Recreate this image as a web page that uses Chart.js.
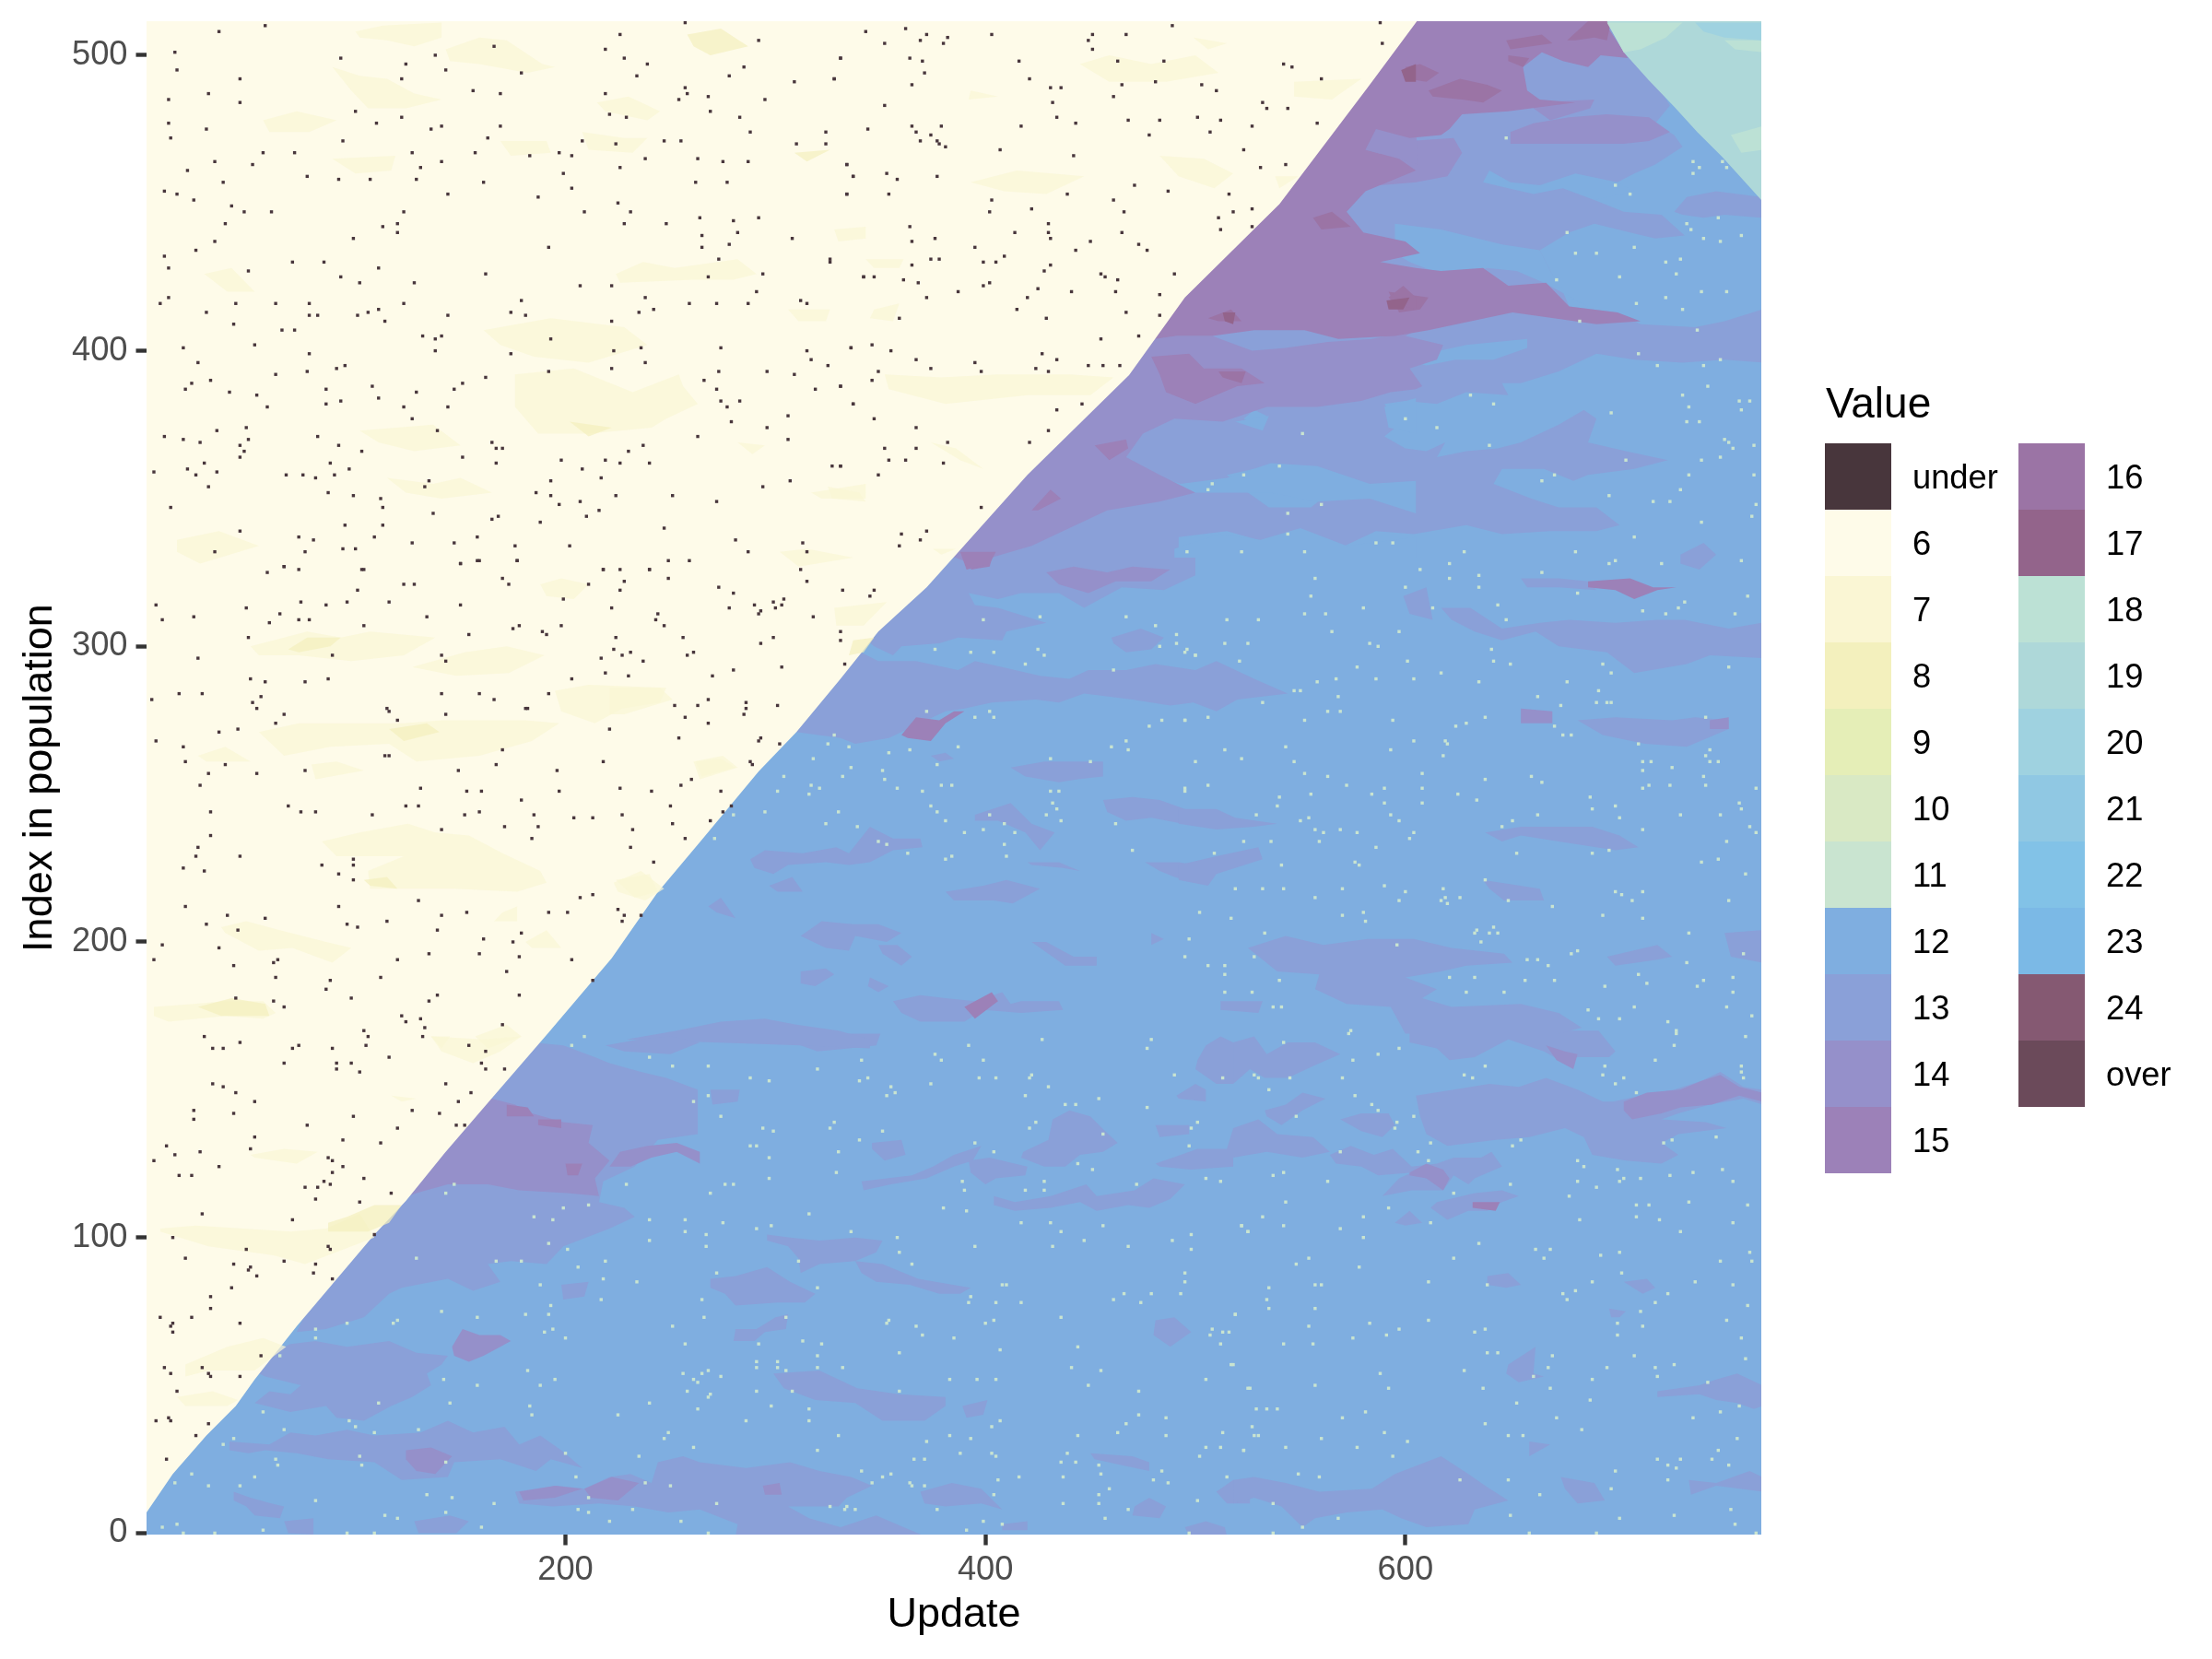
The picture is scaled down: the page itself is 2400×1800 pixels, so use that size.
<!DOCTYPE html>
<html>
<head>
<meta charset="utf-8">
<title>Value by update and index</title>
<script src="https://cdn.jsdelivr.net/npm/chart.js@4/dist/chart.umd.min.js"></script>
<style>
  html, body { margin: 0; padding: 0; background: #fff; }
  canvas { display: block; }
</style>
</head>
<body>
<canvas id="heat" width="2400" height="1800"></canvas>
<script>
const xTicks = [200, 400, 600];
const yTicks = [0, 100, 200, 300, 400, 500];
const xRange = [0.5, 769.5];
const yRange = [-0.5, 511.5];

const legendLabels = ['under', '6', '7', '8', '9', '10', '11', '12', '13', '14', '15',
  '16', '17', '18', '19', '20', '21', '22', '23', '24', 'over'];
const legendColors = ['#48363C', '#FEFBE9', '#FAF6D4', '#F3F0BD', '#E5EEB7', '#D9E9C4', '#C9E4D0', '#7FAEE0', '#8AA0D8', '#9590CA', '#9C81B8',
  '#9B74A5', '#93648B', '#BCE1D5', '#AED8D9', '#9FD2E0', '#90C8E3', '#82C2E7', '#7BB9E6', '#855972', '#6B4A5A'];

// regions, [update, index] outlines
const region12 = [[0.5,-0.5],[769.5,-0.5],[769.5,511.5],[0.5,511.5]];
const region6 = [[0.5,7],[13,20],[29,33],[43,43],[52,52],[72,70],[109,101],[124,112.4],[142.5,128.6],[166,148],[192,169.4],[222,194.5],[243.7,216.6],[265,234.6],[292,257.7],[310,271],[331,289],[349,305],[372,320],[386.6,331.5],[420,358],[468.4,391.8],[495,418],[540,449.6],[582.6,489.6],[605.5,511.5],[0.5,511.5]];
const region19 = [[696,511.5],[704,501],[716,491.5],[728,482.6],[739,474],[751,465.5],[769.5,451],[769.5,511.5]];

const patch18 = [[[696,511],[732,511],[724,506],[712,502],[704,501]],[[752,505],[770,505],[770,501],[757,502]],[[755,473],[770,476],[770,468],[760,467]]];
const patch20 = [[[738,511],[770,511],[770,505],[752,506],[742,508]]];

const patch7 = [
  [[100,508],[113,510],[141,511],[141,506],[128,503],[115,505],[102,506]],
  [[143,502],[159,506],[172,505],[189,497],[195,496],[182,494],[159,497],[145,498]],
  [[89,496],[102,493],[115,492],[128,487],[141,485],[124,482],[106,482],[98,488]],
  [[56,478],[72,481],[91,478],[78,474],[59,474]],
  [[215,484],[230,486],[245,481],[239,478],[219,481]],
  [[169,471],[191,471],[193,467],[174,466]],
  [[208,474],[228,472],[239,472],[232,467],[211,468]],
  [[89,465],[119,466],[117,461],[100,460]],
  [[176,392],[204,394],[232,386],[254,392],[256,388],[263,382],[248,377],[241,374],[211,372],[187,372],[176,381]],
  [[161,407],[193,411],[228,408],[239,402],[211,396],[185,398],[169,402]],
  [[102,373],[137,375],[150,368],[128,366],[111,369]],
  [[115,357],[137,355],[150,357],[165,352],[141,350],[124,352]],
  [[224,426],[237,430],[252,428],[282,431],[291,426],[280,424],[261,424],[226,423]],
  [[15,336],[35,339],[54,334],[26,328],[15,332]],
  [[28,426],[41,428],[52,420],[39,420]],
  [[302,332],[315,333],[337,330],[311,327]],
  [[328,441],[343,442],[343,438],[330,437]],
  [[282,369],[295,368],[289,365]],
  [[317,352],[343,355],[343,350],[322,350]],
  [[306,414],[326,414],[324,410],[311,410]],
  [[50,300],[77,305],[93,303],[107,305],[138,303],[123,297],[98,295],[73,297],[54,297]],
  [[127,293],[152,298],[172,300],[190,297],[173,291],[148,290]],
  [[195,285],[211,287],[248,286],[245,281],[227,279],[214,274],[198,278]],
  [[54,271],[73,274],[95,274],[123,274],[141,275],[181,275],[197,274],[184,268],[159,263],[129,261],[116,267],[88,266],[66,263]],
  [[79,260],[91,261],[104,258],[81,255]],
  [[25,263],[38,266],[50,261],[29,261]],
  [[84,234],[102,237],[125,240],[138,237],[154,236],[170,230],[188,224],[191,220],[177,217],[147,218],[125,218],[107,218],[106,224],[123,229],[91,229]],
  [[36,205],[48,207],[64,204],[86,200],[98,198],[89,193],[70,198],[54,197],[38,203]],
  [[4,178],[23,179],[38,180],[56,180],[62,176],[56,174],[38,175],[11,173],[4,175]],
  [[188,321],[198,323],[211,321],[204,316],[191,317]],
  [[223,220],[236,224],[247,218],[238,214],[225,217]],
  [[261,261],[275,263],[282,259],[264,255]],
  [[181,200],[191,204],[198,198],[184,198]],
  [[136,168],[145,168],[141,164]],
  [[157,168],[172,172],[179,168],[163,164]],
  [[170,210],[177,212],[177,207],[166,207]],
  [[445,497],[459,500],[479,497],[500,500],[511,494],[486,491],[459,491]],
  [[483,466],[504,465],[518,460],[509,455],[492,459]],
  [[393,457],[415,461],[447,459],[429,453],[409,454]],
  [[352,392],[379,391],[406,392],[440,392],[461,391],[450,385],[420,385],[381,382],[354,387]],
  [[343,431],[361,431],[359,428],[347,428]],
  [[499,506],[515,504],[506,502]],
  [[393,488],[406,486],[392,485]],
  [[547,491],[579,492],[565,485],[547,486]],
  [[538,459],[549,459],[540,455]],
  [[374,369],[386,367],[399,360],[388,363]],
  [[347,414],[359,416],[356,410],[345,411]],
  [[325,354],[340,352],[343,349],[327,350]],
  [[375,333],[386,333],[379,331]],
  [[221,286],[245,286],[251,282],[228,277],[221,277]],
  [[262,261],[274,262],[281,259],[265,256]],
  [[328,313],[353,315],[342,307],[329,307]],
  [[224,221],[240,223],[244,217],[233,215]],
  [[7,103],[24,104],[69,102],[86,103],[102,108],[109,100],[76,91],[61,94],[30,97],[7,102]],
  [[50,128],[66,130],[82,129],[72,125],[52,127]],
  [[19,57],[39,63],[56,66],[67,63],[52,55],[30,55],[19,53]],
  [[15,46],[32,48],[44,45],[39,43],[19,43]],
  [[136,168],[161,167],[179,168],[169,163],[156,159],[141,163]],
  [[117,148],[129,147],[122,146]]
];
const patch8 = [
  [[258,507],[274,509],[287,503],[269,500],[261,503]],
  [[309,467],[326,468],[315,464]],
  [[202,376],[222,374],[211,371]],
  [[68,299],[77,303],[93,303],[88,300],[73,298]],
  [[116,272],[134,274],[140,271],[123,268]],
  [[104,221],[115,222],[120,218],[107,219]],
  [[25,178],[41,181],[57,179],[59,175],[36,175]],
  [[337,302],[347,303],[342,298],[335,297]],
  [[87,105],[96,107],[109,111],[122,111],[116,105],[106,102],[87,102]]
];

const patch13 = [
  [[590,512],[700,512],[720,490],[726,483],[719,477],[728,473],[732,469],[719,463],[709,460],[701,457],[690,451],[704,447],[722,446],[733,439],[719,438],[707,440],[690,443],[678,440],[664,434],[669,427],[675,420],[678,415],[701,413],[712,409],[738,408],[752,410],[770,414],[770,396],[752,397],[732,396],[709,397],[691,399],[673,393],[655,389],[646,389],[649,385],[629,386],[615,382],[600,383],[590,382],[597,375],[590,371],[600,367],[610,366],[619,369],[615,364],[629,366],[644,367],[655,369],[673,375],[685,380],[691,377],[687,369],[705,366],[725,363],[709,360],[687,358],[680,356],[666,360],[646,360],[642,355],[660,350],[673,347],[691,347],[702,341],[691,339],[669,339],[646,338],[629,341],[604,338],[586,339],[568,333],[553,338],[535,335],[515,339],[492,337],[492,330],[380,330],[370,340]],
  [[387,332],[500,332],[500,324],[485,319],[465,320],[447,313],[435,318],[417,318],[406,316],[399,317],[392,318],[395,314],[406,313],[429,308],[410,305],[408,302],[387,303],[378,301],[360,300],[356,297],[347,300],[330,310],[370,335]],
  [[300,268],[310,271],[331,269],[338,267],[354,269],[363,272],[381,278],[390,279],[403,281],[424,282],[435,281],[447,284],[470,282],[488,280],[499,281],[510,278],[520,282],[544,284],[528,289],[510,295],[500,292],[481,294],[467,292],[449,292],[440,289],[426,290],[408,293],[395,295],[387,292],[367,295],[349,295],[335,300]],
  [[184,166],[199,165],[214,161],[221,159],[236,156],[248,154],[263,150],[263,135],[244,133],[233,124],[218,119],[216,112],[228,110],[233,107],[221,103],[199,97],[191,91],[174,92],[163,91],[169,85],[156,82],[144,86],[122,83],[116,81],[104,73],[86,69],[72,68],[100,110],[160,170]],
  [[69,64],[81,65],[96,63],[116,65],[129,61],[144,60],[141,57],[134,54],[136,50],[127,46],[117,43],[104,38],[91,39],[86,43],[69,41],[52,44],[59,48],[69,47],[74,50],[57,53],[54,54],[50,58]],
  [[40,31],[59,30],[69,34],[81,33],[96,35],[109,33],[131,34],[144,38],[156,34],[171,36],[178,30],[188,33],[198,28],[208,22],[193,25],[186,21],[169,25],[147,24],[144,19],[122,18],[109,24],[87,25],[72,27],[57,28],[49,27],[40,28]],
  [[176,14],[196,16],[209,15],[221,19],[231,20],[241,17],[244,24],[256,26],[264,24],[286,22],[307,24],[321,21],[336,19],[346,16],[334,12],[330,9],[306,9],[316,5],[331,2],[348,6],[371,-1],[281,-1],[282,3],[264,8],[249,7],[233,9],[216,10],[194,9],[178,10]],
  [[42,14],[50,12],[60,10],[66,9],[64,5],[52,6],[48,9],[42,11]],
  [[66,4],[80,5],[80,-0.5],[68,0]],
  [[128,4],[145,6],[154,4],[148,0],[130,0]],
  [[198,84],[211,85],[209,80],[199,79]],
  [[311,169],[350,169],[348,165],[335,164],[320,163],[312,165]],
  [[269,150],[283,150],[282,146],[270,145]],
  [[346,132],[360,133],[362,128],[352,126],[346,130]],
  [[341,119],[365,121],[375,124],[385,128],[398,131],[394,126],[385,124],[372,120],[355,118],[342,116]],
  [[392,126],[402,127],[420,124],[419,121],[405,120],[400,118],[393,122]],
  [[418,129],[430,133],[432,140],[440,143],[450,141],[457,136],[463,132],[456,129],[445,128],[438,124],[428,124],[417,127]],
  [[404,114],[414,112],[431,114],[448,118],[453,114],[471,116],[480,120],[495,118],[488,113],[478,110],[468,111],[453,109],[445,112],[431,110],[414,109],[404,111]],
  [[518,166],[528,168],[534,162],[544,166],[557,166],[569,162],[556,158],[544,154],[533,154],[526,157],[518,152]],
  [[501,160],[505,165],[512,168],[518,166],[518,152],[510,152],[500,157]],
  [[491,148],[500,152],[505,150],[505,146],[492,147]],
  [[481,138],[497,138],[497,135],[483,134]],
  [[481,125],[493,128],[501,130],[515,130],[518,137],[530,140],[539,135],[556,134],[564,129],[551,127],[534,129],[518,127],[518,124],[498,123],[483,124]],
  [[296,101],[307,100],[321,99],[338,100],[351,99],[348,95],[338,92],[321,91],[312,88],[311,93],[306,97],[296,99]],
  [[338,92],[351,91],[368,86],[393,83],[388,81],[378,81],[364,84],[348,85],[341,88]],
  [[269,86],[281,87],[296,90],[307,85],[319,81],[314,78],[301,78],[281,77],[276,81],[269,83]],
  [[281,69],[291,69],[300,73],[306,74],[305,69],[295,68],[290,65],[280,65]],
  [[299,54],[321,55],[339,49],[359,47],[381,46],[381,43],[371,38],[351,38],[338,44],[319,45],[304,49]],
  [[389,43],[401,45],[399,40],[391,39]],
  [[369,14],[384,17],[398,15],[408,8],[398,10],[381,9],[371,10]],
  [[471,9],[478,12],[486,9],[483,5],[470,6]],
  [[510,14],[518,18],[526,17],[526,10],[515,10]],
  [[481,72],[490,73],[498,68],[488,63],[480,67]],
  [[495,2],[505,4],[514,2],[515,-1],[497,-1]],
  [[408,3],[420,4],[420,1],[408,1]],
  [[450,27],[470,26],[478,24],[478,21],[465,23],[452,25]],
  [[605,148],[623,150],[640,152],[654,151],[667,154],[682,150],[694,146],[699,146],[712,148],[728,150],[741,153],[750,156],[761,151],[770,150],[770,145],[761,147],[745,145],[730,142],[722,140],[743,139],[753,137],[730,135],[722,132],[730,128],[722,125],[705,126],[689,128],[685,134],[676,137],[659,134],[643,133],[620,131],[610,135],[607,141]],
  [[602,170],[623,170],[692,170],[700,163],[697,161],[682,161],[676,159],[666,163],[649,167],[633,161],[621,160],[615,164],[602,166]],
  [[533,143],[543,145],[551,149],[562,147],[551,143],[541,138],[534,141]],
  [[569,140],[579,142],[592,142],[595,138],[589,134],[579,136]],
  [[564,128],[574,131],[585,128],[594,130],[603,124],[615,125],[623,127],[636,127],[641,129],[646,124],[633,120],[630,118],[623,121],[618,116],[603,116],[589,114],[597,120],[603,122],[587,121],[579,124],[567,125]],
  [[615,112],[633,115],[646,116],[654,114],[646,112],[639,109],[630,109],[620,106],[612,110]],
  [[595,105],[602,109],[608,105],[600,104]],
  [[720,48],[740,50],[748,52],[758,54],[770,50],[770,43],[766,42],[758,44],[748,45],[740,47],[720,46]],
  [[518,18],[528,19],[543,17],[559,14],[584,15],[595,20],[617,26],[630,20],[638,16],[649,11],[633,8],[630,3],[610,2],[598,5],[589,8],[572,7],[557,5],[551,2],[541,9],[528,12],[518,10]],
  [[674,19],[690,17],[695,11],[682,10],[676,15]],
  [[735,18],[748,17],[764,21],[770,19],[770,14],[748,16],[736,13]],
  [[649,57],[662,63],[661,54],[666,53],[654,51],[648,54]],
  [[704,85],[715,86],[719,83],[713,81]],
  [[697,76],[705,75],[702,73],[698,73]],
  [[639,87],[649,88],[655,84],[648,83],[639,84]],
  [[659,31],[669,30],[659,26]],
  [[288,228],[295,231],[313,230],[329,232],[335,230],[345,239],[356,235],[369,235],[370,232],[356,231],[345,227],[335,226],[324,227],[306,226],[299,223],[290,225]],
  [[412,259],[428,261],[442,261],[456,261],[456,256],[444,255],[435,254],[419,256]],
  [[456,248],[470,249],[483,248],[499,244],[494,240],[479,242],[467,241],[458,244]],
  [[395,243],[412,247],[422,240],[433,237],[426,231],[419,237],[406,241],[395,241]],
  [[420,227],[435,227],[445,224],[437,225],[422,226]],
  [[476,227],[492,227],[500,226],[500,220],[490,222],[483,224]],
  [[381,217],[399,219],[410,221],[426,218],[413,213],[404,214],[385,214]],
  [[297,219],[308,222],[313,217],[301,217]],
  [[268,212],[274,215],[281,208],[272,210]],
  [[312,202],[322,207],[337,206],[349,206],[360,203],[353,200],[338,202],[335,197],[324,198]],
  [[349,199],[358,199],[365,195],[360,192],[351,196]],
  [[422,200],[429,200],[442,195],[453,195],[453,192],[438,192]],
  [[312,190],[324,191],[328,189],[319,185],[312,186]],
  [[345,188],[354,185],[349,183],[344,185]],
  [[356,180],[369,182],[381,181],[395,180],[408,183],[412,179],[417,180],[435,180],[437,177],[417,176],[399,177],[390,173],[369,173],[360,176]],
  [[229,167],[253,170],[274,173],[295,174],[310,172],[330,170],[345,167],[345,164],[312,165],[270,166]],
  [[219,165],[235,167],[250,168],[264,166],[250,162],[228,163]],
  [[460,303],[474,306],[485,303],[479,299],[467,298],[461,301]],
  [[374,263],[381,264],[385,262],[378,261]],
  [[479,203],[485,201],[479,199]],
  [[731,331],[742,335],[748,331],[740,326],[731,328]],
  [[655,323],[673,323],[687,322],[691,319],[673,320],[658,320]],
  [[617,313],[631,313],[646,306],[664,308],[678,309],[700,308],[720,309],[733,309],[754,306],[770,308],[770,296],[745,297],[734,294],[709,291],[696,298],[673,300],[662,305],[646,302],[633,305],[622,309]],
  [[682,275],[700,276],[727,275],[738,276],[754,275],[754,272],[734,266],[714,267],[694,270]],
  [[638,237],[655,239],[675,239],[689,239],[702,236],[711,232],[700,231],[673,234],[655,236],[646,234]],
  [[637,221],[664,218],[666,214],[647,214],[640,218]],
  [[492,245],[510,245],[519,242],[539,240],[528,239],[510,238],[492,240]],
  [[492,226],[510,229],[530,232],[532,228],[510,223],[506,219],[492,221]],
  [[525,198],[543,202],[561,199],[582,201],[604,201],[622,198],[647,196],[651,193],[629,192],[617,190],[600,188],[615,184],[608,181],[622,178],[655,179],[673,176],[684,171],[673,169],[600,169],[593,178],[572,179],[557,184],[559,189],[539,190]],
  [[696,195],[720,199],[727,195],[720,194],[700,192]],
  [[752,203],[770,204],[770,193],[755,195]],
  [[512,180],[532,180],[530,176],[512,177]],
  [[599,317],[610,320],[613,309],[602,311]],
  [[728,447],[734,452],[748,454],[770,452],[770,445],[752,446],[742,445],[732,446]]
];
const pockets12 = [
  [[595,443],[617,441],[646,436],[664,434],[669,427],[678,418],[687,415],[666,423],[653,427],[639,428],[627,425],[613,427],[602,430],[595,433]],
  [[640,461],[650,457],[664,456],[681,460],[701,457],[709,454],[690,451],[675,455],[661,453],[649,455],[637,457]],
  [[515,358],[534,361],[553,358],[564,352],[555,347],[535,347],[523,353]],
  [[528,380],[534,378],[528,375],[523,377]],
  [[597,400],[610,399],[629,402],[658,404],[658,401],[642,397],[624,397],[610,395],[599,397]],
  [[479,358],[493,355],[515,357],[536,362],[558,361],[583,355],[605,356],[605,345],[583,350],[558,349],[536,352],[511,352],[495,352]],
  [[490,333],[511,338],[531,336],[550,340],[572,334],[605,337],[605,330],[558,330],[490,330]],
  [[519,376],[535,378],[532,373]],
  [[590,381],[605,384],[605,372],[592,374]]
];
const patch14 = [
  [[393,328],[422,334],[440,340],[458,346],[483,349],[500,352],[483,358],[467,364],[475,372],[490,377],[513,376],[534,381],[558,381],[579,383],[593,386],[605,387],[608,388],[602,394],[615,397],[618,402],[600,405],[605,407],[584,404],[563,403],[543,401],[527,400],[508,405],[491,405],[481,404],[470,410],[350,340]],
  [[165,147],[176,145],[184,142],[199,139],[213,138],[211,132],[221,126],[214,120],[216,114],[201,115],[178,116],[163,118],[144,118],[129,115],[118,112],[110,120],[140,150]],
  [[221,124],[226,129],[239,131],[253,132],[264,129],[264,125],[253,129],[241,127],[231,124]],
  [[146,63],[151,69],[159,67],[169,67],[174,65],[169,63],[161,60],[154,58],[147,60]],
  [[124,28],[136,29],[146,26],[138,20],[129,21],[124,25]],
  [[178,14],[195,16],[208,15],[195,12],[180,11]],
  [[209,15],[222,19],[235,17],[225,11],[212,12]],
  [[294,16],[302,17],[303,13],[295,13]],
  [[704,146],[715,149],[731,150],[741,153],[750,155],[759,151],[770,149],[770,146],[759,148],[746,145],[731,144],[722,142],[708,140],[704,143]],
  [[667,165],[676,163],[682,162],[680,157],[672,160]],
  [[602,122],[610,125],[618,123],[621,120],[618,116],[610,120],[602,121]],
  [[429,325],[442,327],[458,325],[470,327],[488,326],[479,322],[462,322],[449,318],[435,321]],
  [[655,279],[670,278],[670,274],[655,274]],
  [[745,275],[754,276],[754,272],[745,272]],
  [[650,474],[661,477],[678,479],[696,480],[716,479],[726,474],[716,471],[704,470],[681,470],[664,470],[650,470]],
  [[588,473],[602,471],[623,472],[627,467],[620,459],[605,457],[588,456]],
  [[661,484],[690,485],[688,482],[669,478],[661,482]],
  [[586,476],[605,476],[606,463],[597,465],[581,468]]
];
const patch15 = [
  [[590,512],[694,512],[706,499],[693,500],[687,496],[675,498],[665,501],[656,496],[658,488],[664,485],[681,484],[649,481],[627,480],[621,475],[617,473],[602,472],[586,475],[581,468],[597,465],[605,461],[581,454],[572,447],[580,440],[600,437],[607,433],[588,430],[605,428],[617,427],[637,428],[649,422],[667,423],[678,415],[701,413],[712,410],[691,409],[651,413],[638,411],[611,407],[595,405],[568,404],[552,407],[528,407],[508,405],[491,405],[481,404],[400,405],[400,512]],
  [[479,398],[497,399],[504,394],[522,394],[533,389],[520,388],[500,382],[486,386],[483,392]],
  [[172,145],[182,144],[185,141],[172,141]],
  [[187,140],[198,140],[198,137],[187,138]],
  [[200,125],[208,125],[206,121],[201,121]],
  [[632,112],[645,112],[643,109],[632,110]],
  [[687,322],[707,323],[718,320],[729,320],[720,319],[709,316],[700,319],[687,320]],
  [[360,270],[367,276],[378,275],[385,278],[390,278],[381,274],[374,268],[363,269]],
  [[390,178],[403,183],[406,180],[395,174]],
  [[422,346],[431,353],[436,350],[425,346]],
  [[452,368],[467,370],[468,367],[459,363]],
  [[395,330],[404,332],[402,327],[393,326]],
  [[388,332],[405,332],[402,328],[391,326]]
];
const patch16 = [
  [[511,393],[524,393],[522,389],[513,391]],
  [[592,420],[611,418],[607,414],[597,413]],
  [[600,496],[607,497],[616,494],[610,491],[601,492]],
  [[611,488],[626,492],[639,490],[646,488],[637,484],[627,485],[613,486]],
  [[648,505],[665,507],[670,504],[660,503],[650,502]],
  [[687,511.5],[698,511.5],[696,505],[690,506],[681,505],[677,505]],
  [[649,500],[659,499],[656,496],[649,498]],
  [[556,445],[565,447],[574,442],[560,441]],
  [[506,411],[517,414],[522,410],[511,410]],
  [[592,418],[599,422],[605,418],[605,414],[595,416]]
];
const patch17 = [
  [[598,495],[605,497],[605,491],[600,491]],
  [[513,413],[519,413],[518,409],[514,410]],
  [[591,417],[602,418],[599,414],[592,414]]
];

const underCells = [[35,508],[57,510],[14,501],[93,499],[124,497],[138,500],[143,495],[179,494],[166,503],[15,495],[45,492],[122,492],[156,488],[169,487],[30,487],[11,485],[45,484],[257,511],[226,507],[292,505],[219,502],[228,499],[239,497],[285,496],[278,493],[234,493],[331,499],[309,491],[328,492],[257,489],[268,486],[254,485],[258,487],[219,487],[295,485],[269,481],[229,479],[283,479],[221,480],[100,481],[122,479],[110,477],[136,475],[141,476],[169,476],[11,477],[29,475],[288,474],[324,474],[12,472],[94,471],[163,472],[208,471],[247,471],[255,471],[224,470],[324,470],[310,470],[56,467],[71,467],[157,467],[127,467],[183,466],[197,467],[203,466],[238,465],[263,465],[275,464],[287,464],[33,464],[51,463],[141,464],[131,462],[226,462],[334,463],[20,461],[77,459],[92,458],[107,458],[129,458],[161,457],[199,460],[262,457],[277,457],[337,459],[37,457],[203,455],[9,454],[15,453],[23,451],[144,453],[187,452],[334,453],[225,450],[41,449],[47,447],[60,447],[123,447],[209,447],[231,447],[38,443],[120,443],[113,442],[228,443],[248,443],[264,445],[280,444],[292,445],[120,440],[99,438],[265,439],[282,440],[33,437],[308,438],[278,436],[24,434],[265,435],[192,435],[9,432],[273,431],[326,430],[70,430],[85,430],[111,428],[11,428],[49,427],[162,426],[93,425],[268,425],[294,426],[342,425],[102,423],[128,423],[207,422],[222,422],[291,420],[238,418],[7,416],[11,418],[179,417],[43,416],[62,416],[78,416],[123,416],[259,416],[272,416],[287,416],[312,417],[315,416],[29,413],[78,412],[82,412],[101,412],[106,413],[111,414],[144,412],[174,413],[181,412],[235,413],[242,414],[42,409],[114,410],[222,410],[65,407],[71,407],[132,405],[138,404],[141,405],[193,404],[274,401],[315,400],[336,401],[52,402],[18,401],[138,400],[236,401],[223,400],[174,399],[78,399],[25,396],[238,396],[317,397],[91,394],[95,395],[222,394],[325,395],[77,393],[62,392],[192,393],[273,393],[296,393],[309,392],[162,391],[266,390],[31,390],[22,389],[108,388],[151,389],[147,387],[19,387],[86,387],[129,386],[272,387],[319,387],[331,388],[40,386],[53,385],[93,383],[111,384],[274,383],[283,383],[86,382],[337,382],[58,381],[123,381],[144,381],[277,381],[306,378],[127,377],[279,376],[139,373],[34,373],[48,374],[9,371],[296,374],[82,371],[263,371],[18,370],[49,370],[26,369],[165,369],[306,370],[45,368],[92,368],[237,368],[167,367],[170,367],[230,366],[103,366],[47,366],[45,364],[151,364],[198,363],[219,363],[88,362],[167,362],[226,362],[240,362],[28,362],[331,361],[20,360],[97,360],[208,360],[4,359],[34,359],[24,358],[67,358],[75,358],[90,358],[81,357],[217,357],[307,356],[193,356],[135,356],[30,354],[133,354],[294,354],[87,352],[186,352],[99,351],[224,351],[251,351],[193,351],[112,350],[207,349],[272,349],[197,348],[12,347],[113,347],[216,346],[137,345],[165,343],[168,344],[210,344],[188,342],[113,341],[95,341],[247,340],[45,339],[73,337],[80,336],[109,337],[158,337],[281,336],[127,335],[147,335],[176,334],[313,335],[202,334],[33,332],[76,332],[94,333],[100,333],[287,332],[315,332],[158,329],[177,329],[249,329],[259,329],[150,328],[66,327],[103,326],[218,326],[240,326],
  [58,325],[66,327],[73,326],[104,326],[123,321],[128,321],[150,328],[159,329],[177,329],[101,319],[170,323],[173,321],[211,321],[199,316],[218,326],[226,326],[240,326],[249,323],[228,322],[226,319],[273,320],[280,318],[5,314],[48,313],[74,315],[86,314],[96,315],[116,315],[150,314],[222,313],[278,313],[8,309],[23,310],[64,311],[73,309],[78,309],[134,310],[104,307],[59,308],[244,311],[243,309],[247,307],[198,307],[178,307],[175,306],[189,305],[191,304],[154,304],[49,303],[224,303],[256,303],[25,296],[89,297],[141,297],[143,295],[223,299],[231,298],[227,297],[217,296],[237,295],[258,297],[261,298],[219,291],[230,290],[270,290],[280,292],[50,289],[57,288],[76,288],[87,289],[203,289],[16,284],[27,284],[3,282],[55,283],[141,284],[159,284],[166,282],[192,284],[268,282],[51,281],[53,279],[115,279],[116,278],[181,279],[182,279],[252,280],[263,280],[66,277],[143,277],[120,275],[257,276],[62,274],[44,272],[268,274],[35,271],[221,272],[5,268],[254,269],[18,266],[170,265],[114,263],[116,263],[19,261],[38,260],[218,261],[167,260],[30,257],[53,257],[76,258],[149,258],[196,258],[26,253],[260,255],[255,253],[131,252],[153,251],[160,251],[226,252],[197,251],[241,251],[274,251],[179,248],[68,246],[124,246],[130,246],[250,246],[31,244],[74,244],[81,244],[159,244],[108,243],[152,243],[275,244],[279,246],[227,243],[204,242],[213,242],[185,243],[171,239],[187,239],[251,240],[269,241],[141,238],[232,238],[31,236],[184,235],[257,235],[25,232],[231,232],[24,229],[45,229],[99,228],[242,227],[18,225],[84,226],[99,226],[28,224],[92,223],[99,221],[130,214],[207,215],[213,216],[19,212],[92,212],[225,211],[39,209],[141,209],[153,210],[192,210],[201,210],[228,209],[236,209],[57,208],[115,207],[227,207],[29,206],[96,206],[101,205],[44,204],[139,204],[179,203],[161,201],[175,200],[8,199],[35,198],[135,196],[159,196],[120,194],[4,194],[61,193],[63,194],[178,195],[203,194],[42,192],[172,190],[62,188],[112,188],[88,187],[213,187],[86,184],[139,182],[178,182],[43,181],[98,181],[61,180],[135,180],[66,178],[122,175],[124,173],[131,174],[133,171],[104,170],[170,172],
  [28,168],[45,166],[32,164],[37,164],[73,165],[89,164],[70,164],[106,168],[105,165],[132,168],[116,161],[154,165],[162,163],[66,159],[91,159],[98,159],[91,157],[102,156],[160,159],[162,157],[171,157],[32,152],[37,151],[43,149],[143,152],[155,149],[52,146],[149,146],[23,143],[42,142],[127,143],[140,142],[23,140],[99,141],[77,138],[120,137],[148,138],[152,138],[52,134],[94,133],[112,132],[10,131],[50,130],[26,129],[14,128],[4,126],[87,127],[89,126],[35,124],[94,124],[16,121],[22,121],[89,122],[85,119],[104,120],[88,118],[76,117],[82,117],[117,115],[81,113],[102,112],[27,108],[70,106],[13,100],[109,101],[88,96],[87,97],[48,96],[19,93],[66,92],[42,91],[50,90],[81,91],[49,89],[53,87],[80,88],[89,86],[41,83],[31,80],[31,76],[7,73],[22,73],[45,71],[13,71],[12,70],[13,68],[55,60],[9,56],[27,56],[12,54],[30,54],[45,53],[31,53],[15,48],[11,39],[5,38],[12,38],[30,37],[24,33],[10,25],
  [343,508],[362,509],[372,507],[382,506],[403,507],[352,504],[369,505],[380,504],[451,507],[449,505],[467,507],[489,510],[588,511],[589,504],[451,502],[331,499],[364,499],[370,498],[416,498],[463,498],[485,498],[542,497],[546,496],[371,494],[421,492],[328,492],[365,490],[431,489],[436,489],[465,490],[481,491],[503,490],[560,492],[510,488],[461,486],[432,484],[352,483],[532,484],[534,482],[544,482],[434,479],[468,478],[483,478],[501,479],[512,478],[558,477],[443,477],[365,476],[379,476],[417,476],[344,475],[527,476],[367,474],[374,473],[478,473],[507,474],[369,471],[377,471],[378,470],[381,469],[407,468],[523,468],[442,466],[334,463],[353,460],[377,459],[531,462],[543,463],[337,459],[358,458],[471,456],[487,454],[334,453],[354,453],[439,453],[516,453],[403,451],[461,451],[402,447],[422,448],[466,447],[518,447],[527,448],[511,445],[430,443],[364,442],[414,440],[512,441],[527,442],[465,440],[430,440],[431,438],[376,438],[365,437],[450,437],[473,436],[395,435],[443,434],[477,434],[409,432],[326,431],[374,431],[378,431],[399,430],[405,430],[365,429],[431,429],[428,427],[455,426],[457,425],[490,426],[342,425],[347,425],[361,424],[368,423],[463,424],[402,423],[399,422],[425,421],[387,420],[372,418],[441,420],[462,420],[483,419],[420,418],[415,414],[429,411],[359,411],[467,413],[483,412],[336,401],[346,402],[355,400],[473,405],[455,404],[427,399],[367,397],[434,397],[395,396],[374,394],[464,395],[449,395],[456,395],[424,394],[398,393],[430,393],[349,393],[346,390],[331,388],[337,382],[446,382],[434,380],[347,377],[367,374],[430,373],[382,369],[421,369],[352,367],[367,367],[354,363],[362,363],[380,362],[331,361],[327,361],[349,358],[398,347],[372,339],[360,338],[369,336],[359,334],
  [312,326],[315,322],[332,319],[347,319],[345,317],[304,316],[299,315],[303,314],[300,313],[290,314],[293,312],[292,311],[318,310],[331,305],[331,302],[293,301],[299,303],[333,294],[303,293],[286,281],[286,279],[301,280],[285,277],[293,269],[292,268],[302,267],[288,261],[289,260]
];

const cells11 = [[268,158],[320,157],[288,154],[297,153],[341,160],[376,162],[379,160],[392,165],[427,167],[479,167],[477,164],[399,160],[397,154],[405,154],[344,154],[340,153],[374,152],[355,151],[357,149],[353,148],[422,155],[421,154],[430,151],[419,148],[454,147],[438,145],[443,145],[477,144],[490,155],[513,154],[268,148],[274,141],[294,137],[299,136],[328,139],[326,137],[351,136],[424,139],[421,137],[501,139],[498,137],[340,133],[395,132],[291,131],[288,131],[330,129],[404,129],[456,135],[497,131],[297,127],[329,122],[444,125],[451,123],[297,120],[389,119],[428,119],[472,118],[505,120],[512,119],[276,118],[280,118],[269,115],[390,116],[419,116],[428,116],[380,110],[391,109],[316,108],[275,105],[298,104],[291,103],[417,105],[431,105],[456,104],[522,104],[525,102],[436,102],[336,102],[267,101],[358,100],[498,101],[447,99],[489,99],[267,97],[395,97],[432,97],[468,97],[498,96],[359,95],[311,92],[365,91],[272,88],[495,88],[495,85],[320,83],[408,84],[410,84],[393,80],[493,81],[466,81],[479,81],[265,79],[461,79],[392,78],[405,78],[417,78],[474,78],[436,73],[305,73],[266,73],[404,72],[400,71],[353,71],[354,72],[367,70],[519,74],[508,69],[513,68],[516,68],[507,67],[370,67],[385,66],[512,64],[313,65],[322,64],[292,64],[444,63],[407,62],[359,61],[320,60],[291,58],[301,58],[291,56],[301,56],[320,56],[332,56],[305,55],[441,56],[455,55],[517,57],[265,54],[268,55],[274,53],[383,52],[396,52],[405,52],[505,52],[449,50],[525,49],[308,48],[291,48],[359,48],[473,48],[269,47],[268,46],[298,43],[316,42],[473,40],[486,39],[286,38],[316,38],[407,38],[403,36],[467,37],[463,34],[513,34],[486,33],[330,33],[383,33],[444,33],[393,32],[372,31],[505,29],[512,29],[523,28],[320,28],[388,27],[403,27],[405,26],[439,27],[502,26],[366,25],[371,25],[436,24],[443,24],[454,23],[484,21],[341,21],[355,20],[351,19],[455,20],[416,19],[437,19],[515,19],[480,18],[487,17],[406,18],[346,17],[364,17],[365,16],[371,16],[459,15],[404,13],[454,13],[501,11],[272,10],[437,10],[454,10],[326,9],[334,9],[333,8],[338,8],[377,8],[468,8],[457,5],[399,4],[408,3],[391,1],[497,0],[268,0],
  [542,166],[573,169],[587,162],[597,164],[575,160],[638,158],[728,165],[729,169],[762,168],[719,160],[695,158],[760,158],[760,156],[528,155],[530,154],[570,154],[628,155],[632,154],[694,155],[704,154],[761,154],[700,152],[535,150],[545,154],[576,148],[584,145],[587,143],[710,149],[548,141],[604,141],[596,139],[595,137],[612,132],[655,133],[651,131],[727,133],[723,132],[748,134],[569,129],[606,129],[682,126],[611,126],[685,124],[701,123],[751,123],[537,121],[542,122],[737,122],[726,121],[704,120],[702,119],[712,120],[682,119],[563,119],[650,118],[691,117],[756,119],[623,115],[678,114],[543,112],[710,111],[716,111],[735,112],[763,111],[592,110],[580,107],[532,107],[710,107],[721,106],[683,106],[522,104],[542,104],[612,105],[756,105],[525,102],[569,103],[731,102],[580,100],[635,98],[662,96],[669,96],[702,95],[764,95],[693,94],[554,93],[623,93],[666,93],[750,92],[765,92],[548,91],[578,90],[703,88],[689,85],[738,85],[611,85],[557,84],[560,84],[639,84],[535,83],[756,84],[681,82],[675,81],[725,81],[534,79],[677,79],[719,78],[763,77],[535,76],[557,76],[519,74],[712,75],[611,72],[583,71],[554,70],[701,71],[753,72],[713,70],[597,69],[638,69],[633,68],[591,67],[701,67],[575,66],[760,66],[542,64],[556,64],[639,61],[644,61],[670,60],[709,60],[762,59],[728,57],[518,57],[696,56],[668,56],[628,55],[719,56],[588,54],[661,53],[720,53],[689,52],[744,51],[557,50],[669,49],[637,49],[592,49],[526,49],[688,45],[653,44],[759,43],[529,42],[534,42],[539,42],[581,41],[750,41],[570,39],[672,39],[737,39],[638,37],[527,36],[684,35],[590,34],[528,33],[530,33],[649,33],[656,33],[560,32],[758,32],[601,31],[543,29],[577,29],[523,28],[749,28],[594,26],[720,25],[731,25],[746,25],[725,23],[729,22],[754,23],[549,20],[559,19],[700,21],[649,18],[626,18],[725,18],[664,13],[698,15],[537,10],[755,8],[568,5],[650,6],[728,6],[702,5],[757,3],[551,2],[537,0],[659,0],[691,0],[767,0],
  [739,407],[683,410],[711,399],[750,397],[720,395],[742,395],[744,388],[732,385],[631,385],[642,382],[759,383],[764,383],[735,381],[760,380],[698,379],[600,377],[734,376],[740,376],[615,374],[551,372],[752,370],[754,369],[756,367],[766,368],[640,368],[750,364],[705,363],[741,363],[540,361],[523,358],[671,358],[735,358],[766,358],[665,356],[508,355],[506,353],[731,353],[697,351],[560,348],[718,349],[726,349],[544,345],[767,348],[765,344],[741,342],[544,338],[709,337],[586,335],[594,335],[628,332],[681,332],[496,332],[522,332],[552,332],[621,328],[697,328],[700,329],[722,328],[760,329],[607,326],[665,325],[557,323],[621,323],[635,324],[600,320],[635,320],[682,318],[763,317],[555,317],[733,315],[644,314],[580,313],[613,313],[713,312],[730,313],[552,311],[562,311],[724,311],[757,311],[515,309],[530,309],[648,309],[597,305],[565,305],[514,301],[525,301],[583,301],[587,300],[496,299],[641,299],[500,297],[521,295],[601,295],[642,295],[650,294],[694,294],[577,293],[754,293],[617,291],[698,291],[567,289],[586,289],[604,289],[677,288],[635,288],[558,288],[547,285],[550,285],[692,285],[568,283],[663,283],[532,281],[691,281],[696,281],[698,281],[674,280],[563,278],[569,278],[506,276],[552,275],[495,275],[594,275],[638,276],[743,276],[624,273],[671,273],[629,274],[675,270],[679,270],[604,268],[619,268],[620,267],[711,267],[543,266],[514,265],[593,265],[745,265],[618,263],[743,263],[522,262],[500,261],[547,261],[713,261],[717,261],[745,261],[749,261],[727,259],[713,258],[608,257],[552,257],[563,256],[660,256],[742,256],[638,255],[506,253],[572,253],[665,254],[726,253],[495,252],[590,252],[608,252],[713,252],[716,253],[743,253],[584,250],[555,250],[625,250],[767,252],[540,249],[688,249],[634,248],[590,247],[608,247],[539,246],[759,247],[700,246],[760,245],[689,245],[529,243],[593,243],[663,243],[750,243],[731,243],[651,241],[554,242],[702,242],[550,241],[597,241],[764,239],[646,239],[557,238],[569,238],[713,238],[561,237],[577,237],[604,237],[767,237],[602,235],[559,234],[536,234],[523,234],[753,234],[586,232],[697,231],[509,230],[653,230],[689,230],[749,228],[576,227],[741,227],[578,226],[541,226],[762,223],[638,221],[590,219],[519,218],[532,218],[570,218],[618,218],[700,217],[542,218],[600,217],[703,216],[619,215],[626,215],[557,215],[713,217],[617,214],[708,214],[597,214],[649,214],[754,214],[620,213],[670,212],[502,210],[580,210],[694,209],[570,209],[517,208],[581,207],[713,208],[642,205],[533,203],[634,204],[644,203],[640,203],[633,203],[735,203],[497,201],[636,200],[495,195],[528,195],[596,199],[682,197],[679,196],[761,196],[658,194],[663,194],[734,193],[668,192],[506,192],[514,192],[514,189],[711,189],[756,188],[540,187],[621,188],[633,188],[671,187],[657,187],[715,186],[742,187],[695,185],[739,185],[527,183],[514,183],[629,183],[647,183],[756,183],[537,178],[541,178],[687,177],[709,178],[753,178],[765,175],[692,174],[702,174],[725,173],[729,170],[574,170],
  [648,472],[737,464],[740,462],[737,460],[700,456],[707,453],[753,462],[751,464],[677,440],[734,443],[736,441],[742,438],[750,437],[760,439],[681,433],[691,433],[709,435],[731,431],[724,430],[729,426],[702,425],[672,424],[741,420],[753,420],[724,418],[710,416],[732,414],[749,445],
  [372,278],[402,278],[395,276],[404,276],[376,299],[393,298],[404,298],[425,299],[428,297],[419,294],[461,292],[399,309],[426,310],[467,310],[491,304],[491,301],[495,298],[483,300],[500,297],[481,307],[328,270],[325,267],[335,266],[354,264],[364,265],[387,266],[468,265],[467,268],[460,266],[478,273],[495,275],[484,275],[318,262],[336,259],[351,258],[377,260],[431,262],[450,261],[304,256],[332,256],[352,255],[317,253],[321,252],[379,253],[384,253],[301,251],[316,250],[358,252],[370,251],[431,251],[435,251],[495,251],[295,244],[330,244],[280,243],[374,246],[377,244],[432,247],[429,243],[434,245],[436,241],[462,240],[402,243],[409,240],[324,240],[339,239],[381,241],[390,237],[399,238],[414,237],[271,235],[349,234],[409,233],[353,233],[470,231],[363,230],[410,229],[384,229],[381,228],
  [209,168],[203,165],[240,161],[251,158],[261,146],[147,118],[143,115],[229,118],[199,110],[211,111],[185,107],[194,106],[240,106],[257,106],[257,102],[240,99],[192,98],[201,96],[129,93],[167,92],[179,92],[219,92],[206,90],[218,86],[234,85],[188,84],[217,79],[193,77],[141,75],[181,74],[192,74],[158,73],[120,72],[118,71],[96,71],[251,70],[81,69],[194,69],[190,68],[200,66],[81,66],[257,64],[64,60],[182,55],[256,54],[142,52],[195,52],[188,50],[158,50],[261,52],[263,51],[258,48],[111,44],[145,44],[240,44],[183,43],[184,40],[56,41],[225,40],[263,42],[97,38],[100,36],[130,35],[66,35],[109,34],[249,34],[42,32],[247,32],[37,30],[261,29],[200,27],[102,26],[235,26],[62,25],[143,24],[103,23],[63,23],[22,20],[205,19],[52,19],[14,17],[45,16],[30,16],[250,16],[238,17],[134,13],[211,12],[146,12],[81,11],[166,10],[206,8],[211,7],[143,7],[232,8],[114,6],[120,5],[221,4],[160,2],[15,3],[8,2],[56,1],[33,0],[18,0],[96,0],[109,0],[255,4]
];

const colorOf = label => legendColors[legendLabels.indexOf(label)];

function area(outline, color) {
  return {
    data: outline.map(([x, y]) => ({ x, y })),
    showLine: true,
    fill: 'shape',
    backgroundColor: color,
    borderWidth: 0,
    pointRadius: 0
  };
}

function cells(list, label) {
  return {
    data: list.map(([x, y]) => ({ x, y })),
    showLine: false,
    pointStyle: 'rect',
    pointRadius: 2.4,
    pointBorderWidth: 0,
    pointBackgroundColor: colorOf(label)
  };
}

// painted bottom to top, the yellow patches are speckled with 6 so they get some alpha
const layers = [
  area(region12, colorOf('12')),
  ...patch13.map(p => area(p, colorOf('13'))),
  ...pockets12.map(p => area(p, colorOf('12'))),
  ...patch14.map(p => area(p, colorOf('14'))),
  ...patch15.map(p => area(p, colorOf('15'))),
  ...patch16.map(p => area(p, colorOf('16'))),
  ...patch17.map(p => area(p, colorOf('17'))),
  area(region6, colorOf('6')),
  ...patch7.map(p => area(p, colorOf('7') + 'B3')),
  ...patch8.map(p => area(p, colorOf('8') + 'B3')),
  area(region19, colorOf('19')),
  ...patch18.map(p => area(p, colorOf('18'))),
  ...patch20.map(p => area(p, colorOf('20'))),
  cells(cells11, '11'),
  cells(underCells, 'under')
];
// chart.js paints low order last, so count down
layers.forEach((d, i) => { d.order = -i; });

const legendBlocks = {
  id: 'legendBlocks',
  afterDraw(chart) {
    const ctx = chart.ctx;
    ctx.save();
    ctx.fillStyle = '#000';
    ctx.font = '46px "Liberation Sans"';
    ctx.textAlign = 'left';
    ctx.textBaseline = 'alphabetic';
    ctx.fillText('Value', 1981, 453);
    ctx.font = '36.3px "Liberation Sans"';
    ctx.textBaseline = 'middle';
    legendLabels.forEach((label, i) => {
      const col = i < 11 ? 0 : 1;
      const row = col ? i - 11 : i;
      const left = col ? 2190 : 1980;
      const top = 481 + row * 72;
      ctx.fillStyle = legendColors[i];
      ctx.fillRect(left, top, 72, 72);
      ctx.fillStyle = '#000';
      ctx.fillText(label, left + 95, top + 39);
    });
    ctx.restore();
  }
};

const tickFont = { family: 'Liberation Sans', size: 36.3 };
const titleFont = { family: 'Liberation Sans', size: 45 };
const tickGrid = { drawOnChartArea: false, drawTicks: true, tickLength: 11.5, tickWidth: 4.4, tickColor: '#333333' };

new Chart(document.getElementById('heat'), {
  type: 'scatter',
  data: { datasets: layers },
  options: {
    responsive: false,
    devicePixelRatio: 1,
    animation: false,
    events: [],
    layout: { padding: { top: 23, right: 489, left: 0, bottom: 0 } },
    plugins: { legend: { display: false }, tooltip: { enabled: false } },
    scales: {
      x: {
        type: 'linear',
        bounds: 'data',
        min: xRange[0],
        max: xRange[1],
        afterBuildTicks: s => { s.ticks = xTicks.map(value => ({ value })); },
        afterFit: s => { s.height = 135; s.paddingLeft = 0; s.paddingRight = 0; },
        grid: tickGrid,
        border: { display: false },
        ticks: { font: tickFont, color: '#4D4D4D', padding: 6, maxRotation: 0, autoSkip: false, callback: v => String(v) },
        title: { display: true, text: 'Update', color: '#000', font: titleFont, padding: { top: 0, bottom: 20 } }
      },
      y: {
        type: 'linear',
        bounds: 'data',
        min: yRange[0],
        max: yRange[1],
        afterBuildTicks: s => { s.ticks = yTicks.map(value => ({ value })); },
        afterFit: s => { s.width = 159; s.paddingTop = 0; s.paddingBottom = 0; },
        grid: tickGrid,
        border: { display: false },
        ticks: { font: tickFont, color: '#4D4D4D', padding: 9, autoSkip: false, callback: v => String(v) },
        title: { display: true, text: 'Index in population', color: '#000', font: titleFont, padding: { top: 17, bottom: 0 } }
      }
    }
  },
  plugins: [legendBlocks]
});
</script>
</body>
</html>
